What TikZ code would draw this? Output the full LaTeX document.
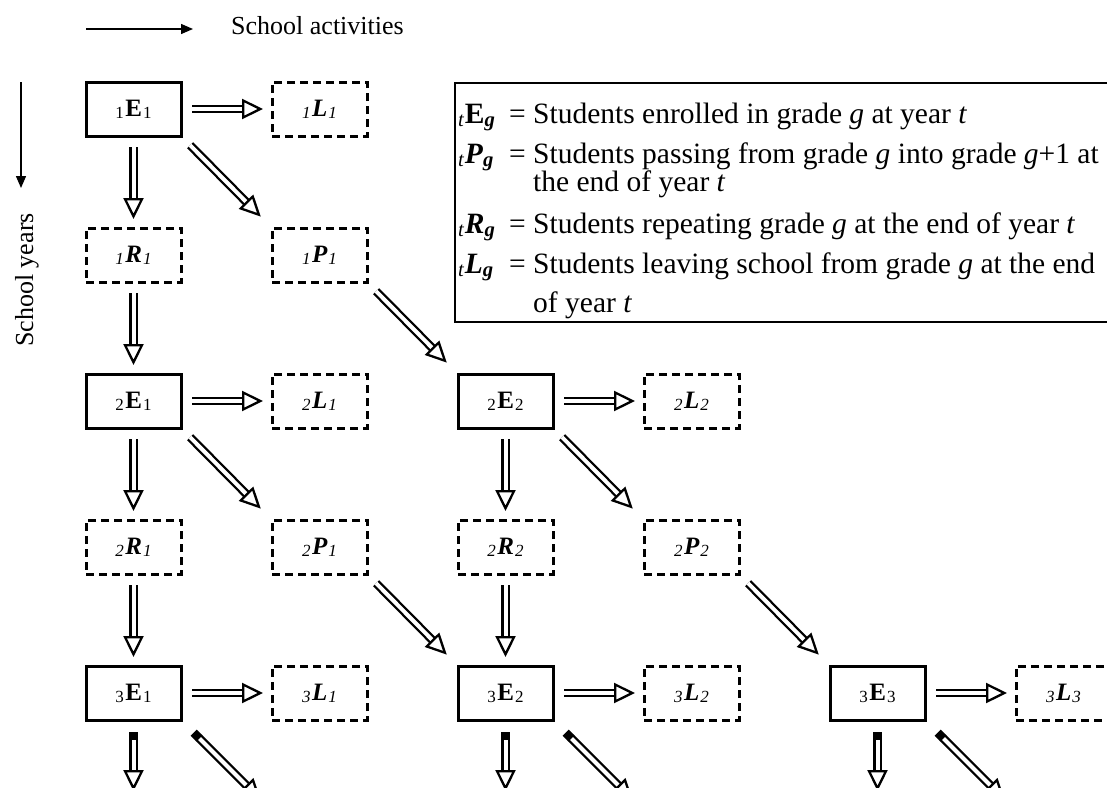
\documentclass[tikz,border=0pt]{standalone}
\usepackage{fontspec}
\setmainfont{Liberation Serif}
\usetikzlibrary{positioning,arrows.meta}

\newcommand{\sidx}[1]{\raisebox{-2pt}{\fontsize{17}{17}\selectfont #1}}
\newcommand{\elab}[3]{\sidx{#1}\kern1.5pt\textbf{#2}\kern1pt\sidx{#3}}
\newcommand{\ilab}[3]{\sidx{\textit{#1}}\kern1.5pt\textbf{\textit{#2}}\kern1pt\sidx{\textit{#3}}}
\newcommand{\lsym}[1]{\makebox[51pt][l]{\textsubscript{\textit{t}}#1\textsubscript{\textbf{\textit{g}}}}= }

\begin{document}
\begin{tikzpicture}[x=1pt, y=-1pt, node distance=92pt and 91pt,
main/.style = {draw, line width=3pt, outer sep=0pt, inner sep=0pt, minimum width=95pt, minimum height=54pt, font=\fontsize{25}{30}\selectfont},
aux/.style = {main, dash pattern=on 8pt off 5pt},
flow/.style = {line width=2.3pt, double distance=4pt, shorten <=11pt, shorten >=9pt, -{Triangle[fill=white, length=21pt, width=20pt, line width=2.3pt]}},
diag/.style = {flow, shorten <=13pt, shorten >=16pt},
stub/.style = {flow, shorten <=12pt, shorten >=0pt, {Rectangle[length=8pt, width=8.6pt]}-{Triangle[fill=white, length=21pt, width=20pt, line width=2.3pt]}},
guide/.style = {line width=1.4pt, -{Triangle[length=12pt, width=10pt]}},
note/.style = {anchor=base west, inner sep=0pt, font=\fontsize{29.5}{35}\selectfont}]
\clip (0,0) rectangle (1107,787);
\coordinate (a0) at (86,29);
\coordinate (a1) at (193,29);
\draw[guide] (a0) -- (a1);
\node[anchor=base west, inner sep=0pt, font=\fontsize{26}{31}\selectfont] (act) at (231,34) {School activities};
\coordinate (b0) at (21,82);
\coordinate (b1) at (21,188);
\draw[guide] (b0) -- (b1);
\node[rotate=90, inner sep=0pt, font=\fontsize{26}{31}\selectfont] (yrs) at (27,280) {School years};
\draw[line width=2.2pt] (455,83) rectangle (1120,322);
\node[note] (t1) at (458,123) {\lsym{\textbf{E}}Students enrolled in grade \textit{g} at year \textit{t}};
\node[note] (t2) at (458,163) {\lsym{\textbf{\textit{P}}}Students passing from grade \textit{g} into grade \textit{g}+1 at};
\node[note] (t3) at (533,191) {the end of year \textit{t}};
\node[note] (t4) at (458,233) {\lsym{\textbf{\textit{R}}}Students repeating grade \textit{g} at the end of year \textit{t}};
\node[note] (t5) at (458,273) {\lsym{\textbf{\textit{L}}}Students leaving school from grade \textit{g} at the end};
\node[note] (t6) at (533,312) {of year \textit{t}};
\node[main] (e11) at (133.5,109) {\elab{1}{E}{1}};
\node[aux] (l11) [right=of e11] {\ilab{1}{L}{1}};
\node[aux] (r11) [below=of e11] {\ilab{1}{R}{1}};
\node[aux] (p11) [below=of l11] {\ilab{1}{P}{1}};
\node[main] (e21) [below=of r11] {\elab{2}{E}{1}};
\node[aux] (l21) [right=of e21] {\ilab{2}{L}{1}};
\node[main] (e22) [right=of l21] {\elab{2}{E}{2}};
\node[aux] (l22) [right=of e22] {\ilab{2}{L}{2}};
\node[aux] (r21) [below=of e21] {\ilab{2}{R}{1}};
\node[aux] (p21) [below=of l21] {\ilab{2}{P}{1}};
\node[aux] (r22) [below=of e22] {\ilab{2}{R}{2}};
\node[aux] (p22) [below=of l22] {\ilab{2}{P}{2}};
\node[main] (e31) [below=of r21] {\elab{3}{E}{1}};
\node[aux] (l31) [right=of e31] {\ilab{3}{L}{1}};
\node[main] (e32) [below=of r22] {\elab{3}{E}{2}};
\node[aux] (l32) [right=of e32] {\ilab{3}{L}{2}};
\node[main] (e33) [right=of l32] {\elab{3}{E}{3}};
\node[aux] (l33) [right=of e33] {\ilab{3}{L}{3}};
\draw[flow] (e11) -- (l11);
\draw[flow] (e11) -- (r11);
\draw[diag] (e11.south east) -- (p11.north west);
\draw[flow] (r11) -- (e21);
\draw[diag] (p11.south east) -- (e22.north west);
\draw[flow] (e21) -- (l21);
\draw[flow] (e21) -- (r21);
\draw[diag] (e21.south east) -- (p21.north west);
\draw[flow] (e22) -- (l22);
\draw[flow] (e22) -- (r22);
\draw[diag] (e22.south east) -- (p22.north west);
\draw[flow] (r21) -- (e31);
\draw[diag] (p21.south east) -- (e32.north west);
\draw[flow] (r22) -- (e32);
\draw[diag] (p22.south east) -- (e33.north west);
\foreach \n in {31,32,33} {
  \draw[flow] (e\n) -- (l\n);
  \coordinate[below=71pt of e\n] (d\n);
  \coordinate (q\n) at ([shift={(80pt,-80pt)}]e\n.south east);
  \draw[stub] (e\n) -- (d\n);
  \draw[stub, shorten <=18pt] (e\n.south east) -- (q\n);
}
\end{tikzpicture}
\end{document}
